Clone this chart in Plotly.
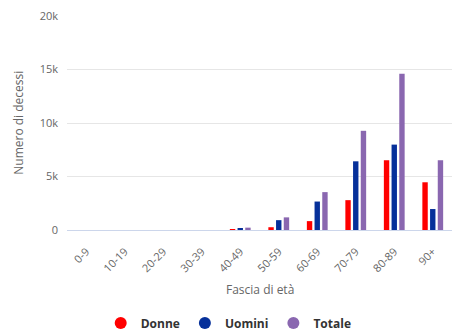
import plotly.graph_objects as go

categories = ["0-9", "10-19", "20-29", "30-39", "40-49", "50-59", "60-69", "70-79", "80-89", "90+"]
donne = [0, 0, 0, 0, 40, 260, 830, 2790, 6520, 4460]
uomini = [0, 0, 0, 0, 170, 920, 2660, 6420, 7980, 1960]
totale = [0, 0, 0, 0, 220, 1180, 3540, 9270, 14600, 6520]
y_ticks = [0, 5000, 10000, 15000, 20000]
y_tick_labels = ["0", "5k", "10k", "15k", "20k"]

series_names = ["Donne", "Uomini", "Totale"]
series_colors = ["#ff0000", "#06309a", "#8a67b0"]

font = "Open Sans, Lato, sans-serif"

fig = go.Figure()
for name, vals, col in zip(series_names, [donne, uomini, totale], series_colors):
    fig.add_bar(name=name, x=categories, y=vals, marker_color=col,
                marker_line_width=0, showlegend=False)
for name, col in zip(series_names, series_colors):
    fig.add_scatter(name=name, x=[None], y=[None], mode="markers",
                    marker=dict(symbol="circle", size=12, color=col), showlegend=True)

fig.update_layout(
    width=453, height=333,
    margin=dict(l=67, r=1, t=16, b=103, autoexpand=False),
    paper_bgcolor="white", plot_bgcolor="white",
    barmode="group", bargap=0.4, bargroupgap=0.3,
    font=dict(family=font, color="#666666", size=11),
    showlegend=True,
    legend=dict(orientation="h", x=0.42, xanchor="center", y=-0.435, yanchor="middle",
                font=dict(size=12, color="#333333", family=font, weight="bold"),
                traceorder="normal", itemwidth=30),
    xaxis=dict(tickangle=-45, showline=True, linecolor="#ccd6eb", linewidth=1,
               ticks="", tickfont=dict(size=11, color="#666666"), showgrid=False,
               ticklabelstandoff=10, automargin=False),
    yaxis=dict(range=[0, 20000], tickvals=y_ticks, ticktext=y_tick_labels,
               showgrid=True, gridcolor="#e6e6e6", zeroline=False, automargin=False,
               tickfont=dict(size=11, color="#666666"), ticklabelstandoff=8),
    annotations=[
        dict(text="Numero di decessi", xref="paper", yref="paper", x=-0.128, y=0.5,
             textangle=-90, showarrow=False, xanchor="center", yanchor="middle",
             font=dict(size=12, color="#666666")),
        dict(text="Fascia di età", xref="paper", yref="paper", x=0.5, y=-0.28,
             showarrow=False, xanchor="center", yanchor="middle",
             font=dict(size=12, color="#666666")),
    ],
)

fig.write_html("out.html")
